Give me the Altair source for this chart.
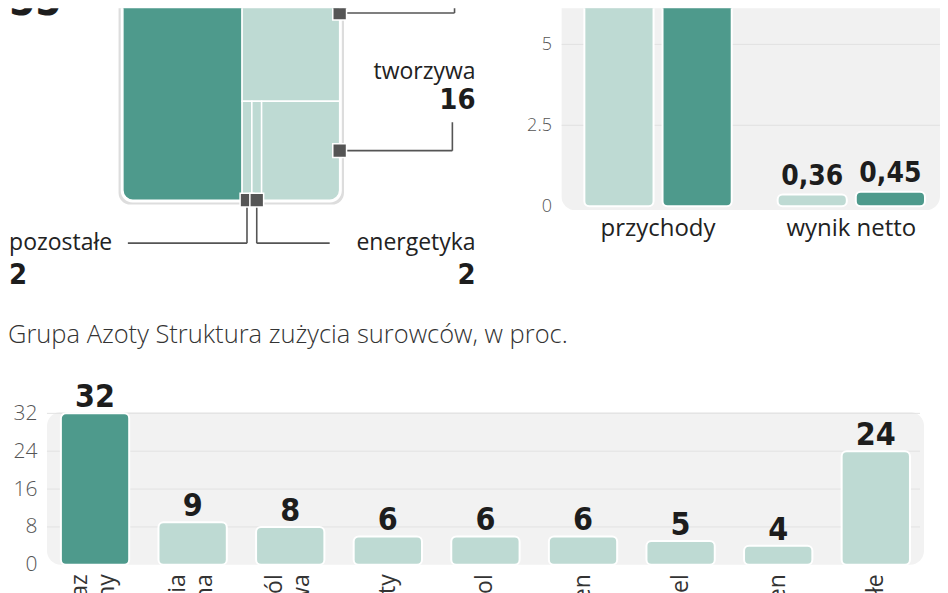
import altair as alt
import pandas as pd

# ---------------- data ----------------
segments = ["nawozy", "chemia", "tworzywa", "energetyka", "pozostałe"]
shares = [55, 25, 16, 2, 2]

fin_metrics = ["przychody", "wynik netto"]
fin_years = ["2013", "2014"]
fin_prev = [9.9, 0.36]
fin_curr = [9.8, 0.45]
fin_ticks = [0, 2.5, 5]

raw_names = ["gaz ziemny", "energia elektryczna", "sól potasowa", "fosforyty",
             "fenol", "benzen", "węgiel", "propylen", "pozostałe"]
raw_shares = [32, 9, 8, 6, 6, 6, 5, 4, 24]
raw_ticks = [0, 8, 16, 24, 32]

# ---------------- style ----------------
DARK = "#4e9a8c"
LIGHT = "#bedad3"
INK = "#1d1d1d"
REG = "Open Sans, Roboto, sans-serif"
BOLD = "Liberation Sans Narrow, DejaVu Sans Condensed, sans-serif"
NOVIEW = alt.ViewBackground(strokeWidth=0, stroke="transparent")

# ============ panel A: structure of revenues (treemap) ============
WA, HA = 499, 287
xA = alt.Scale(domain=[-53, -53 + WA / 2.17], nice=False, zero=False)
yA = alt.Scale(domain=[-42.6, 86.1], nice=False, zero=False)

total = sum(shares)
dark_w = shares[0] / total * 100
right_total = total - shares[0]
chem_h = shares[1] / right_total * 100
lower_h = 100 - chem_h
lower_order = [4, 3, 2]  # pozostałe, energetyka, tworzywa (left -> right)
lower_total = sum(shares[i] for i in lower_order)

rects = [dict(seg=segments[0], x=0, x2=dark_w, y=0, y2=100, c=DARK),
         dict(seg=segments[1], x=dark_w, x2=100, y=lower_h, y2=100, c=LIGHT)]
cx = dark_w
for i in lower_order:
    w = shares[i] / lower_total * (100 - dark_w)
    rects.append(dict(seg=segments[i], x=cx, x2=cx + w, y=0, y2=lower_h, c=LIGHT))
    cx += w
rdf = pd.DataFrame(rects)
rmid = {r["seg"]: (r["x"] + r["x2"]) / 2 for r in rects}

def enc_rect(ch):
    return ch.encode(
        x=alt.X("x:Q", scale=xA, axis=None), x2="x2:Q",
        y=alt.Y("y:Q", scale=yA, axis=None), y2="y2:Q",
        color=alt.Color("c:N", scale=None))

frame = pd.DataFrame([dict(x=-2.0, x2=102.0, y=-2.0, y2=130, c="#dddddd"),
                      dict(x=-1.0, x2=101.0, y=-1.0, y2=130, c="#ffffff")])
A_frame = enc_rect(alt.Chart(frame).mark_rect(clip=True, cornerRadius=12))
rect_style = dict(clip=True, stroke="white", strokeWidth=1.5)
A_dark = enc_rect(alt.Chart(rdf[rdf.seg == segments[0]]).mark_rect(cornerRadiusBottomLeft=10, **rect_style))
A_chem = enc_rect(alt.Chart(rdf[rdf.seg == segments[1]]).mark_rect(cornerRadiusTopRight=10, **rect_style))
A_small = enc_rect(alt.Chart(rdf[rdf.seg.isin([segments[3], segments[4]])]).mark_rect(**rect_style))
A_two = enc_rect(alt.Chart(rdf[rdf.seg == segments[2]]).mark_rect(cornerRadiusBottomRight=10, **rect_style))

lab_y = -19.3
num_y = -33.6
anchors = pd.DataFrame([
    dict(x=rmid[segments[4]], y=0), dict(x=rmid[segments[3]], y=0),
    dict(x=100, y=lower_h / 2), dict(x=100, y=84)])
conn = pd.DataFrame([
    dict(x=rmid[segments[4]], y=0, x2=rmid[segments[4]], y2=lab_y),
    dict(x=rmid[segments[4]], y=lab_y, x2=2.3, y2=lab_y),
    dict(x=rmid[segments[3]], y=0, x2=rmid[segments[3]], y2=lab_y),
    dict(x=rmid[segments[3]], y=lab_y, x2=95.4, y2=lab_y),
    dict(x=100, y=lower_h / 2, x2=152, y2=lower_h / 2),
    dict(x=152, y=lower_h / 2, x2=152, y2=35),
    dict(x=100, y=84, x2=153, y2=84),
    dict(x=153, y=84, x2=153, y2=110),
])
A_conn = alt.Chart(conn).mark_rule(color="#555555", strokeWidth=1.6, clip=True).encode(
    x=alt.X("x:Q", scale=xA, axis=None), x2="x2:Q",
    y=alt.Y("y:Q", scale=yA, axis=None), y2="y2:Q")
A_mark = alt.Chart(anchors).mark_square(size=190, color="#555555", stroke="white",
                                        strokeWidth=1.5, opacity=1, clip=True).encode(
    x=alt.X("x:Q", scale=xA, axis=None), y=alt.Y("y:Q", scale=yA, axis=None))

RX = 162.7
LX = -52.5
left_txt = pd.DataFrame([dict(t=segments[4], x=LX, y=lab_y), dict(t=segments[0], x=LX, y=104)])
left_num = pd.DataFrame([dict(t=str(shares[4]), x=LX, y=num_y, s=29),
                         dict(t=str(shares[0]), x=LX, y=89.0, s=42)])
right_txt = pd.DataFrame([dict(t=segments[3], x=RX, y=lab_y),
                          dict(t=segments[2], x=RX, y=57.4),
                          dict(t=segments[1], x=RX, y=118)])
right_num = pd.DataFrame([dict(t=str(shares[3]), x=RX, y=num_y, s=29),
                          dict(t=str(shares[2]), x=RX, y=44.8, s=29),
                          dict(t=str(shares[1]), x=RX, y=105, s=29)])

def txt(df, align, bold):
    if bold:
        m = alt.Chart(df).mark_text(align=align, baseline="middle", font=BOLD,
                                    fontWeight="bold", color=INK, clip=True)
        return m.encode(x=alt.X("x:Q", scale=xA, axis=None), y=alt.Y("y:Q", scale=yA, axis=None),
                        text="t:N", size=alt.Size("s:Q", scale=None, legend=None))
    m = alt.Chart(df).mark_text(align=align, baseline="middle", font=REG, fontSize=23,
                                color="#222222", clip=True)
    return m.encode(x=alt.X("x:Q", scale=xA, axis=None), y=alt.Y("y:Q", scale=yA, axis=None),
                    text="t:N")

A = alt.layer(A_frame, A_dark, A_chem, A_small, A_two, A_conn, A_mark,
              txt(left_txt, "left", False), txt(left_num, "left", True),
              txt(right_txt, "right", False), txt(right_num, "right", True)
              ).properties(width=WA, height=HA, view=NOVIEW)

# ============ panel B: revenue and net result ============
WB, HB = 379, 202
yB = alt.Scale(domain=[-0.12, (206 - 8) / 32.4], nice=False, zero=False)
fin_rows = []
for m, a, b in zip(fin_metrics, fin_prev, fin_curr):
    fin_rows.append(dict(metric=m, year=fin_years[0], value=a))
    fin_rows.append(dict(metric=m, year=fin_years[1], value=b))
fdf = pd.DataFrame(fin_rows)

xB = alt.X("metric:N", sort=fin_metrics,
           scale=alt.Scale(paddingInner=0.155, paddingOuter=0.057, align=0.68),
           axis=alt.Axis(title=None, labelAngle=0, ticks=False, domain=False,
                         labelFont=REG, labelFontSize=24, labelColor="#222222",
                         labelPadding=6))
xoB = alt.XOffset("year:N", sort=fin_years, scale=alt.Scale(paddingInner=0.115, paddingOuter=0.102))
yaxB = alt.Axis(title=None, values=fin_ticks, format=".1~f", grid=False, ticks=False, domain=False,
                labelFont=REG, labelFontSize=18, labelFontWeight=300, labelColor="#555555",
                labelPadding=10)

B_bg = alt.Chart(pd.DataFrame({"a": [0]})).mark_rect(clip=True, cornerRadius=14, color="#f1f1f1").encode(
    x=alt.value(0), x2=alt.value(WB),
    y=alt.Y(datum=-0.12, scale=yB, axis=yaxB), y2=alt.datum(30))
B_grid = alt.Chart(pd.DataFrame({"tick": fin_ticks[1:]})).mark_rule(color="#e1e1e1", clip=True).encode(
    x=alt.value(0), x2=alt.value(WB), y=alt.Y("tick:Q", scale=yB, axis=yaxB))
B_bars = alt.Chart(fdf).mark_bar(clip=True, cornerRadius=5, stroke="white", strokeWidth=2).encode(
    x=xB, xOffset=xoB, y=alt.Y("value:Q", scale=yB, axis=yaxB), y2=alt.datum(0),
    color=alt.Color("year:N", sort=fin_years, scale=alt.Scale(domain=fin_years, range=[LIGHT, DARK]),
                    legend=None))
B_text = alt.Chart(fdf).transform_calculate(
    lab="replace(format(datum.value, '.2f'), '.', ',')").mark_text(
    clip=True, baseline="alphabetic", dy=-10, font=BOLD, fontWeight="bold",
    fontSize=28, color=INK).encode(
    x=xB, xOffset=xoB, y=alt.Y("value:Q", scale=yB, axis=yaxB), text="lab:N")
B = alt.layer(B_bg, B_grid, B_bars, B_text).properties(width=WB, height=HB, view=NOVIEW)

# ============ panel C: raw materials ============
WC, HC = 917, 153
PL = 39  # left edge of the grey plot background (axis labels sit left of it)
rdf2 = pd.DataFrame({"name": raw_names, "share": raw_shares})
yscC = alt.Scale(domain=[0, 32.3], nice=False)
xC = alt.X("name:N", sort=raw_names,
           scale=alt.Scale(paddingInner=0.3, paddingOuter=0.343, align=0.79),
           axis=alt.Axis(title=None, labelAngle=270, labelAlign="right", labelBaseline="middle",
                         labelExpr="split(datum.label, ' ')", labelFont=REG, labelFontSize=23,
                         labelLineHeight=27, labelColor="#333333", labelPadding=9,
                         labelOffset=alt.ExprRef("indexof(datum.label, ' ') > 0 ? -15 : 0"),
                         ticks=False, domain=False))
yaxC = alt.Axis(title=None, values=raw_ticks, grid=False, ticks=False, domain=False,
                labelFont=REG, labelFontSize=21, labelFontWeight=300, labelColor="#555555",
                labelPadding=-29, minExtent=0)
C_bg = alt.Chart(pd.DataFrame({"a": [0]})).mark_rect(cornerRadius=14, color="#f2f2f2").encode(
    x=alt.value(PL), x2=alt.value(WC), y=alt.Y(datum=0, scale=yscC, axis=yaxC), y2=alt.datum(32.3))
C_grid = alt.Chart(pd.DataFrame({"tick": raw_ticks[1:]})).mark_rule(color="#e2e2e2").encode(
    x=alt.value(PL), x2=alt.value(WC - 4), y=alt.Y("tick:Q", scale=yscC, axis=yaxC))
C_bars = alt.Chart(rdf2).mark_bar(cornerRadius=5, stroke="white", strokeWidth=2).encode(
    x=xC, y=alt.Y("share:Q", scale=yscC, axis=yaxC), y2=alt.datum(0),
    color=alt.condition(alt.datum.name == raw_names[0], alt.value(DARK), alt.value(LIGHT)))
C_text = alt.Chart(rdf2).mark_text(baseline="alphabetic", dy=-6, font=BOLD, fontWeight="bold",
                                   fontSize=32, color=INK).encode(
    x=xC, y=alt.Y("share:Q", scale=yscC, axis=yaxC), text="share:Q")
C = alt.layer(C_bg, C_grid, C_bars, C_text).properties(
    width=WC, height=HC, view=NOVIEW,
    title=alt.TitleParams("Grupa Azoty Struktura zużycia surowców, w proc.", anchor="start",
                          frame="bounds", font=REG, fontWeight=300, fontSize=25.5,
                          color="#333333", offset=33))

top = alt.hconcat(A, B, spacing=20)
chart = alt.vconcat(top, C, spacing=27).properties(padding=0)
chart = chart.configure_view(strokeWidth=0).configure(background="white")

chart.save("out.html", embed_options={"renderer": "svg", "actions": False})
